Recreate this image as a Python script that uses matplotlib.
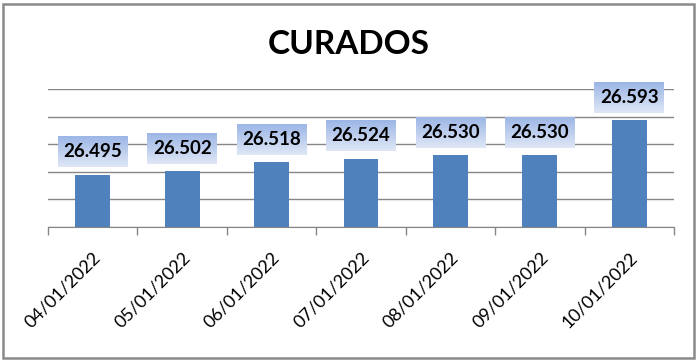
import numpy as np
import matplotlib.pyplot as plt
from matplotlib.patches import Rectangle
from matplotlib.colors import LinearSegmentedColormap

# data
dates = ['04/01/2022', '05/01/2022', '06/01/2022', '07/01/2022',
         '08/01/2022', '09/01/2022', '10/01/2022']
curados = [26495, 26502, 26518, 26524, 26530, 26530, 26593]

bar_color = '#4f81bd'
grid_color = '#868686'
font = 'Lato'

fig = plt.figure(figsize=(6.98, 3.61), dpi=100)
ax = fig.add_axes([48 / 698, 1 - 227 / 361, 626 / 698, 138 / 361])

x = np.arange(len(dates))
ax.bar(x, curados, width=0.39, color=bar_color, zorder=2)

# gradient label boxes above the bars
grad = LinearSegmentedColormap.from_list('lbl', ['#dfe7f6', '#9cb6e6'])
box_half_w = 0.39
gap, box_h = 13, 56
for i, v in enumerate(curados):
    ax.imshow(np.linspace(0, 1, 64).reshape(-1, 1), cmap=grad, origin='lower',
              extent=(i - box_half_w, i + box_half_w, v + gap, v + gap + box_h),
              aspect='auto', zorder=3, clip_on=False)
    ax.text(i, v + gap + box_h / 2, f'{v:,}'.replace(',', '.'),
            ha='center', va='center', fontsize=13.5, fontweight='bold',
            family=font, zorder=4)

ax.set_xlim(-0.5, len(dates) - 0.5)
ax.set_ylim(26400, 26650)
ax.set_yticks(np.arange(26400, 26651, 50))
ax.yaxis.grid(True, color=grid_color, lw=1)
ax.set_axisbelow(True)
ax.tick_params(axis='y', length=0, labelleft=False)

ax.set_xticks(np.arange(-0.5, len(dates)), minor=False)
ax.set_xticklabels([])
ax.set_xticks(x, minor=True)
ax.set_xticklabels(dates, minor=True, rotation=45, ha='right',
                   rotation_mode='anchor', fontsize=13, family=font)
ax.tick_params(axis='x', which='major', length=6, color=grid_color, width=1)
ax.tick_params(axis='x', which='minor', length=0, pad=16)

for s in ['left', 'right', 'top']:
    ax.spines[s].set_visible(False)
ax.spines['bottom'].set_color(grid_color)

fig.text(0.5, 1 - 44 / 361, 'CURADOS', ha='center', va='center',
         fontsize=24, fontweight='bold', family=font)

fig.patches.append(Rectangle((2.7 / 698, 1 - 357.7 / 361), 691.3 / 698, 354.2 / 361,
                             transform=fig.transFigure, fill=False,
                             edgecolor='#8a8a8a', lw=1.8))

fig.savefig('out.png', dpi=100)
